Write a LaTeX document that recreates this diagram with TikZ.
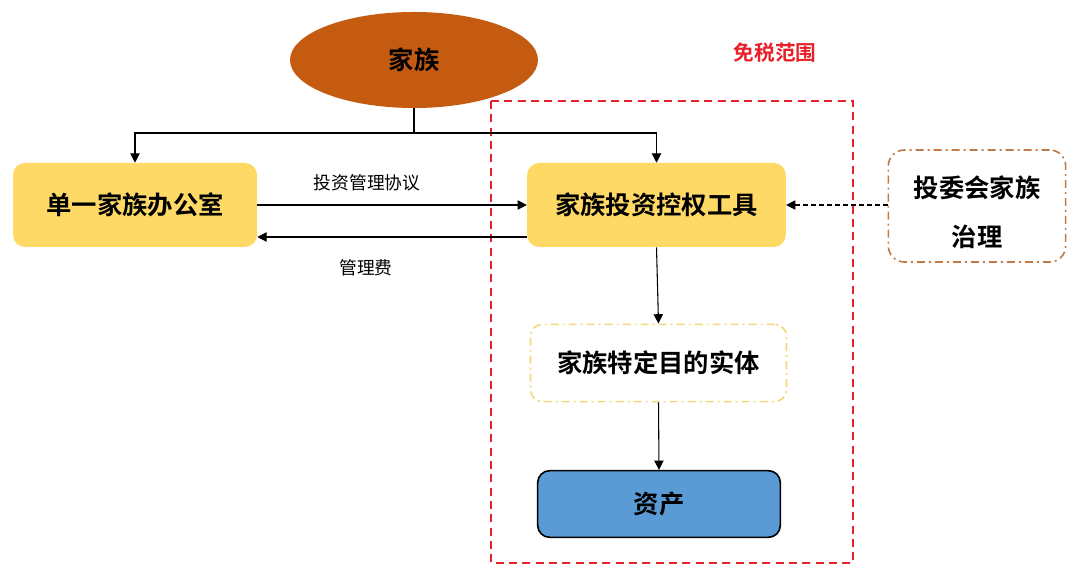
\documentclass[tikz,border=0pt]{standalone}
\usepackage{fontspec}
\setmainfont{Noto Sans CJK SC}
\newfontfamily\cjkb{Noto Sans CJK SC Bold}
\usetikzlibrary{shapes.geometric,arrows.meta}
\definecolor{famorange}{HTML}{C55A11}
\definecolor{boxyellow}{HTML}{FFD966}
\definecolor{assetblue}{HTML}{5B9BD5}
\definecolor{taxred}{HTML}{E8202A}
\definecolor{govbrown}{HTML}{C07A45}
\definecolor{spvyellow}{HTML}{F5D77A}
\tikzset{
  px/.style={x=0.75pt,y=-0.75pt},
  bigtxt/.style={font=\cjkb\fontsize{19}{21}\selectfont},
  mainbox/.style={rectangle,rounded corners=9pt,fill=boxyellow,draw=none,bigtxt,inner sep=0pt},
  conn/.style={draw=black,line width=0.8pt,-{Triangle[length=7pt,width=7pt]}},
  lbl/.style={font=\fontsize{13.3}{15}\selectfont,inner sep=0pt}
}
\begin{document}
\begin{tikzpicture}[px]
\useasboundingbox (0,0) rectangle (1080,580);
% tax-free range
\draw[taxred,line width=1.4pt,dash pattern=on 6pt off 4pt] (491,101) rectangle (853,563);
\node[text=taxred,font=\cjkb\fontsize{15.5}{17}\selectfont] (tax) at (775,53) {免税范围};
% family
\node[ellipse,fill=famorange,minimum width=186pt,minimum height=72pt,inner sep=0pt,bigtxt] (fam) at (414,60) {家族};
% boxes
\node[mainbox,minimum width=183pt,minimum height=63pt] (sfo) at (135,205) {单一家族办公室};
\node[mainbox,minimum width=194pt,minimum height=63pt] (tool) at (656.5,205) {家族投资控权工具};
\node[rectangle,rounded corners=12pt,draw=govbrown,line width=1.2pt,dash pattern=on 6pt off 3pt on 1.5pt off 3pt,minimum width=133pt,minimum height=84pt] (gov) at (977,206) {};
\node[align=center,bigtxt,inner sep=0pt] (govtxt) at (977,212) {投委会家族\\[16pt]治理};
\node[rectangle,rounded corners=9pt,draw=spvyellow,line width=1.2pt,dash pattern=on 6pt off 3pt on 1.5pt off 3pt,minimum width=192pt,minimum height=58pt,bigtxt] (spv) at (658.5,363) {家族特定目的实体};
\node[rectangle,rounded corners=9pt,fill=assetblue,draw=black,line width=1.2pt,minimum width=182pt,minimum height=50pt,bigtxt] (asset) at (659,504) {资产};
% connectors
\coordinate (split) at (fam.south |- 0,133);
\draw[line width=0.8pt] (fam.south) -- (split);
\draw[conn] (split) -| (sfo.north);
\draw[conn] (split) -| (tool.north);
\draw[conn] (sfo.east) -- (sfo.east -| tool.west);
\draw[conn] ([yshift=-24pt]tool.west) -- ([yshift=-24pt]tool.west -| sfo.east);
\draw[conn,dash pattern=on 3.5pt off 2.5pt] (gov.west |- tool.east) -- (tool.east);
\draw[conn] (tool.south) -- (spv.north);
\draw[conn] (spv.south) -- (asset.north);
\node[lbl] (l1) at (367,183) {投资管理协议};
\node[lbl] (l2) at (366,268) {管理费};
\end{tikzpicture}
\end{document}
